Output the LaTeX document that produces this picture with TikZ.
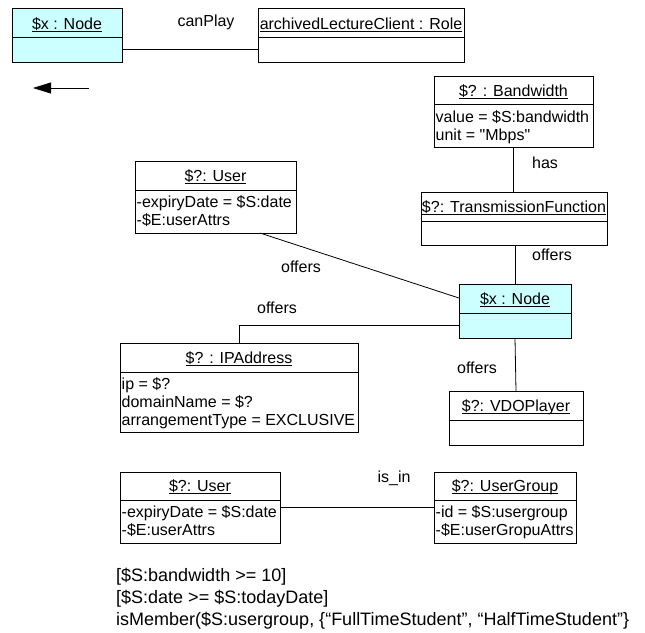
\documentclass[tikz,border=0pt]{standalone}
\usepackage{fontspec}
\setmainfont{Liberation Sans}[Ligatures=TeXOff]
\usetikzlibrary{calc,arrows.meta}

\definecolor{nodecyan}{HTML}{CCFFFF}

\newcommand\boxfont{\fontsize{16bp}{18bp}\selectfont}
\newcommand\notefont{\fontsize{18bp}{22bp}\selectfont}
% underlined object name
\newcommand\objul[1]{\setbox0\hbox{#1}\rlap{\rule[-2.5bp]{\wd0}{0.9bp}}\box0}

\tikzset{
  objframe/.style={draw, line width=1bp, inner sep=0pt, outer sep=0pt},
  objtitle/.style={anchor=base, inner sep=0pt, font=\boxfont},
  objattrs/.style={anchor=north west, inner xsep=1.5bp, inner ysep=0pt, align=left, font=\boxfont},
  assoc/.style={inner sep=0pt, font=\boxfont},
  link/.style={line width=0.8bp},
}

% UML object: name, left, top, right, divider, bottom, fill, title, attributes
\newcommand\objbox[9]{%
  \node[objframe, fill=#7, minimum width={(#4-#2)*1bp}, minimum height={(#6-#3)*1bp}, anchor=north west] (#1) at (#2,#3) {};
  \draw[line width=1bp] (#1.west |- 0,#5) -- (#1.east |- 0,#5);
  \node[objtitle] (#1-t) at ({(#2+#4)/2},{#5-8.5}) {\objul{#8}};
  \if\relax\detokenize{#9}\relax\else
    \node[objattrs] (#1-a) at (#2,#5) {\rule{0pt}{17.5bp}#9};
  \fi
}

\begin{document}
\begin{tikzpicture}[x=1bp, y=-1bp]
\useasboundingbox (0,0) rectangle (645,633);

% objects
\objbox{n1}{12}{9}{122}{38}{63}{nodecyan}{\$x : Node}{}
\objbox{role}{258}{9}{464}{38}{63}{white}{archivedLectureClient : Role}{}
\objbox{bw}{434}{77}{593}{105}{148}{white}{\$? : Bandwidth}{value = \$S:bandwidth\\unit = "Mbps"}
\objbox{tf}{421}{192}{607}{221}{245}{white}{\$?: TransmissionFunction}{}
\objbox{u1}{135}{162}{296}{190}{233}{white}{\$?: User}{-expiryDate = \$S:date\\-\$E:userAttrs}
\objbox{n2}{459}{284}{571}{313}{338}{nodecyan}{\$x : Node}{}
\objbox{ip}{120}{343}{358}{372}{432}{white}{\$? : IPAddress}{ip = \$?\\domainName = \$?\\arrangementType = EXCLUSIVE}
\objbox{vdo}{449}{391}{583}{420}{445}{white}{\$?: VDOPlayer}{}
\objbox{u2}{120}{472}{280}{500}{543}{white}{\$?: User}{-expiryDate = \$S:date\\-\$E:userAttrs}
\objbox{ug}{434}{472}{576}{500}{543}{white}{\$?: UserGroup}{-id = \$S:usergroup\\-\$E:userGropuAttrs}

% associations
\coordinate (c1) at ($(n1.north east)!0.74!(n1.south east)$);
\draw[link] (c1) -- (c1 -| role.west);
\draw[link] (bw.south) -- (bw.south |- tf.north);
\draw[link] (n2.north |- tf.south) -- (n2.north);
\draw[link] ($(u1.south west)!0.776!(u1.south east)$) -- ($(n2.north west)!0.26!(n2.south west)$);
\draw[link] ($(n2.north west)!0.76!(n2.south west)$) -| (ip.north);
\draw[link] (n2.south) -- (vdo.north);
\draw[link] (u2.east) -- (ug.west);

% direction arrow
\coordinate (arrTail) at (89,88);
\coordinate (arrTip) at (33,88);
\draw[link, -{Triangle[length=18bp,width=11bp]}] (arrTail) -- (arrTip);

% association names
\node[assoc] (lcan) at (206,22) {canPlay};
\node[assoc] (lhas) at (545,163) {has};
\node[assoc] (loff1) at (552,255) {offers};
\node[assoc] (loff2) at (301,267) {offers};
\node[assoc] (loff3) at (277,308) {offers};
\node[assoc] (loff4) at (477,368) {offers};
\node[assoc] (lisin) at (394,478) {is\_in};

% constraints (base anchor sits on the last line)
\node[anchor=base west, inner sep=0pt, align=left, font=\notefont] (cons) at (116,625)
  {[\$S:bandwidth >= 10]\\\relax[\$S:date >= \$S:todayDate]\\\relax isMember(\$S:usergroup, \{“FullTimeStudent”, “HalfTimeStudent”\}};
\end{tikzpicture}
\end{document}
